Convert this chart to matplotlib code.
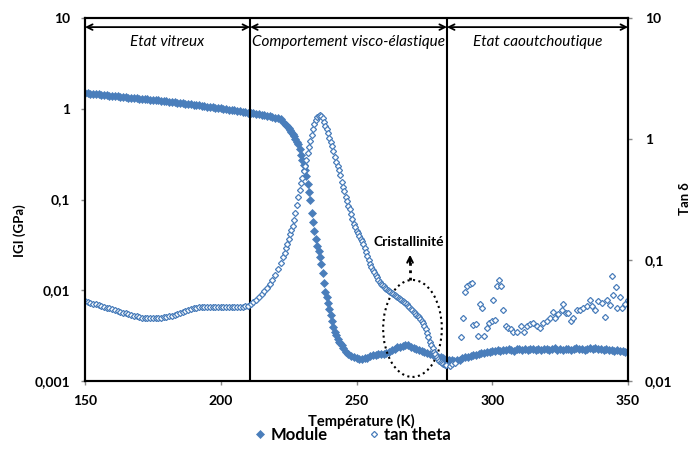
import matplotlib
matplotlib.use("Agg")
import matplotlib.pyplot as plt
from matplotlib.patches import Ellipse

plt.rcParams['font.family'] = ['Lato', 'DejaVu Sans']

# Module |G| (GPa)
module_T = [150, 151, 152, 153, 154, 155, 156, 157, 158, 159,
            160, 161, 162, 163, 164, 165, 166, 167, 168, 169,
            170, 171, 172, 173, 174, 175, 176, 177, 178, 179,
            180, 181, 182, 183, 184, 185, 186, 187, 188, 189,
            190, 191, 192, 193, 194, 195, 196, 197, 198, 199,
            200, 201, 202, 203, 204, 205, 206, 207, 208, 209,
            210, 211, 212, 213, 214, 215, 216, 217, 218, 219,
            220, 221, 222, 223, 224,
            224.5, 225, 225.5, 226, 226.5, 227, 227.5, 228, 228.5, 229,
            229.5, 230, 230.5, 231, 231.5, 232, 232.5, 233, 233.5, 234,
            234.5, 235, 235.5, 236, 236.5, 237, 237.5, 238, 238.5, 239,
            239.5, 240, 240.5, 241, 241.5, 242, 242.5, 243, 243.5, 244,
            244.5, 245,
            246, 247, 248, 249, 250, 251, 252, 253, 254, 255,
            256, 257, 258, 259, 260, 261, 262, 263, 264, 265,
            266, 267, 268, 269, 270, 271, 272, 273, 274, 275,
            276, 277, 278, 279, 280, 281, 282, 283, 284, 285,
            286, 287, 288, 289, 290, 291, 292, 293, 294, 295,
            296, 297, 298, 299, 300, 301, 302, 303, 304, 305,
            306, 307, 308, 309, 310, 311, 312, 313, 314, 315,
            316, 317, 318, 319, 320, 321, 322, 323, 324, 325,
            326, 327, 328, 329, 330, 331, 332, 333, 334, 335,
            336, 337, 338, 339, 340, 341, 342, 343, 344, 345,
            346, 347, 348, 349, 350]
module_G = [1.50, 1.49, 1.47, 1.46, 1.45, 1.44, 1.43, 1.42, 1.41, 1.40,
            1.39, 1.38, 1.37, 1.36, 1.35, 1.34, 1.33, 1.32, 1.31, 1.30,
            1.29, 1.28, 1.28, 1.27, 1.26, 1.25, 1.25, 1.24, 1.23, 1.22,
            1.21, 1.20, 1.19, 1.18, 1.17, 1.16, 1.15, 1.14, 1.13, 1.12,
            1.11, 1.10, 1.09, 1.08, 1.07, 1.06, 1.05, 1.04, 1.03, 1.02,
            1.01, 1.00, 0.99, 0.98, 0.97, 0.96, 0.95, 0.94, 0.93, 0.92,
            0.91, 0.90, 0.89, 0.88, 0.87, 0.86, 0.85, 0.84, 0.83, 0.815,
            0.80, 0.785, 0.765, 0.72, 0.67,
            0.65, 0.62, 0.59, 0.56, 0.53, 0.50, 0.465, 0.435, 0.41, 0.36,
            0.31, 0.27, 0.24, 0.21, 0.18, 0.15, 0.12, 0.100, 0.072, 0.056,
            0.045, 0.037, 0.031, 0.027, 0.023, 0.0195, 0.0155, 0.0120, 0.0096, 0.0084,
            0.0073, 0.0063, 0.0054, 0.0046, 0.0039, 0.0035, 0.0032, 0.0029, 0.0027, 0.0026,
            0.0025, 0.0023,
            0.0021, 0.00198, 0.0019, 0.00183, 0.00178, 0.00176, 0.00176, 0.00178, 0.0018, 0.0019,
            0.00192, 0.00195, 0.00198, 0.0020, 0.0020, 0.00205, 0.0021, 0.0022, 0.00228, 0.00235,
            0.0024, 0.00245, 0.0025, 0.00248, 0.0024, 0.00232, 0.00228, 0.00222, 0.00216, 0.0021,
            0.00205, 0.0020, 0.00195, 0.00192, 0.00186, 0.00182, 0.00178, 0.00176, 0.00172, 0.0017,
            0.00168, 0.0017, 0.00172, 0.00178, 0.00182, 0.00186, 0.0019, 0.00193, 0.00196, 0.0020,
            0.00203, 0.00205, 0.00208, 0.0021, 0.00212, 0.00214, 0.0022, 0.00216, 0.00221, 0.00218,
            0.00224, 0.0022, 0.00217, 0.00223, 0.00226, 0.0022, 0.00224, 0.00219, 0.00223, 0.00228,
            0.00221, 0.00225, 0.0022, 0.00226, 0.00223, 0.00219, 0.00225, 0.00229, 0.00222, 0.00226,
            0.0022, 0.00224, 0.00228, 0.00221, 0.00225, 0.0023, 0.00224, 0.00227, 0.00222, 0.00228,
            0.00231, 0.00225, 0.00229, 0.00223, 0.00227, 0.0022, 0.00224, 0.00219, 0.00222, 0.00217,
            0.0022, 0.00214, 0.00217, 0.00211, 0.00214]

# tan delta, glassy + transition part
tan_T = [150, 151, 152, 153, 154, 155, 156, 157, 158, 159,
         160, 161, 162, 163, 164, 165, 166, 167, 168, 169,
         170, 171, 172, 173, 174, 175, 176, 177, 178, 179,
         180, 181, 182, 183, 184, 185, 186, 187, 188, 189,
         190, 191, 192, 193, 194, 195, 196, 197, 198, 199,
         200, 201, 202, 203, 204, 205, 206, 207, 208, 209,
         210, 211, 212, 213, 214, 215, 216, 217, 218, 219,
         220, 221, 222, 223,
         223.5, 224, 224.5, 225, 225.5, 226, 226.5, 227, 227.5, 228,
         228.5, 229, 229.5, 230, 230.5, 231, 231.5, 232, 232.5, 233,
         233.5, 234, 234.5, 235, 235.5, 236, 236.5, 237, 237.5, 238,
         238.5, 239, 239.5, 240, 240.5, 241, 241.5, 242, 242.5, 243,
         243.5, 244, 244.5, 245, 245.5, 246, 246.5, 247, 247.5, 248,
         248.5, 249, 249.5, 250, 250.5, 251, 251.5, 252, 252.5, 253,
         253.5, 254, 254.5, 255, 255.5, 256, 256.5, 257, 257.5, 258,
         258.5, 259, 259.5, 260, 260.5, 261, 261.5, 262, 262.5, 263,
         263.5, 264, 264.5, 265, 265.5, 266, 266.5, 267, 267.5, 268,
         268.5, 269, 269.5, 270, 270.5, 271, 271.5, 272, 272.5, 273,
         273.5, 274, 274.5, 275, 275.5, 276, 276.5, 277, 277.5, 278,
         278.5, 279, 279.5, 280, 280.5, 281, 281.5, 282, 282.5, 283]
tan_d = [0.046, 0.0452, 0.0445, 0.0437, 0.043, 0.0423, 0.0416, 0.041, 0.0404, 0.0398,
         0.0392, 0.0386, 0.038, 0.0374, 0.0368, 0.0362, 0.0356, 0.0351, 0.0346, 0.0342,
         0.0338, 0.0335, 0.0333, 0.0331, 0.033, 0.033, 0.0331, 0.0332, 0.0334, 0.0336,
         0.0339, 0.0343, 0.0347, 0.0352, 0.0358, 0.0365, 0.0372, 0.0379, 0.0386, 0.0392,
         0.0398, 0.0403, 0.0407, 0.041, 0.0411, 0.0412, 0.0412, 0.0411, 0.041, 0.0409,
         0.0408, 0.0408, 0.0407, 0.0407, 0.0407, 0.0408, 0.0409, 0.041, 0.0412, 0.0415,
         0.042, 0.0432, 0.0448, 0.0468, 0.0492, 0.052, 0.0552, 0.059, 0.0635, 0.069,
         0.0755, 0.084, 0.094, 0.106,
         0.115, 0.125, 0.137, 0.150, 0.163, 0.176, 0.192, 0.215, 0.245, 0.285,
         0.335, 0.38, 0.43, 0.48, 0.54, 0.60, 0.67, 0.76, 0.86, 0.96,
         1.08, 1.22, 1.34, 1.44, 1.51, 1.56, 1.58, 1.56, 1.50, 1.38,
         1.28, 1.20, 1.12, 1.02, 0.94, 0.87, 0.80, 0.71, 0.65, 0.60,
         0.55, 0.50, 0.44, 0.40, 0.37, 0.33, 0.305, 0.28, 0.265, 0.24,
         0.22, 0.20, 0.188, 0.175, 0.166, 0.158, 0.150, 0.143, 0.136, 0.126,
         0.117, 0.108, 0.100, 0.093, 0.088, 0.083, 0.079, 0.076, 0.073, 0.069,
         0.066, 0.064, 0.062, 0.0605, 0.059, 0.0577, 0.0565, 0.0555, 0.0545, 0.0533,
         0.0522, 0.0512, 0.0502, 0.0493, 0.0485, 0.0475, 0.0466, 0.0457, 0.0448, 0.044,
         0.043, 0.0418, 0.0406, 0.0395, 0.0385, 0.0375, 0.0365, 0.0355, 0.0345, 0.0336,
         0.0327, 0.0316, 0.0302, 0.0288, 0.0272, 0.0252, 0.0232, 0.0212, 0.0198, 0.0186,
         0.0175, 0.0166, 0.0159, 0.0152, 0.0147, 0.0143, 0.0140, 0.0138, 0.0136, 0.0135]

# tan delta in the rubbery zone (scattered)
tan_rub_T = [284.5, 285.2, 286.3, 288.4, 289.3, 290.0, 290.8, 291.8, 292.7, 293.0,
             293.9, 294.9, 295.5, 296.1, 297.1, 298.0, 298.9, 299.8, 300.2, 301.0,
             301.6, 302.6, 303.2, 304.1, 305.1, 305.9, 306.8, 307.8, 309.0, 310.5,
             311.5, 312.7, 313.9, 315.1, 316.4, 317.6, 318.8, 320.0, 321.3, 322.3,
             323.1, 324.3, 325.6, 326.2, 327.2, 328.0, 328.9, 329.9, 331.1, 332.3,
             333.5, 334.8, 336.0, 336.6, 337.8, 339.1, 340.3, 341.5, 342.4, 343.4,
             344.0, 344.6, 345.6, 346.1, 347.0, 347.7, 348.9, 349.9]
tan_rub = [0.0133, 0.0138, 0.0142, 0.0232, 0.0334, 0.054, 0.061, 0.0638, 0.065, 0.0289,
           0.0295, 0.0236, 0.043, 0.0405, 0.0236, 0.0277, 0.030, 0.0314, 0.0467, 0.0318,
           0.061, 0.068, 0.061, 0.039, 0.0286, 0.0277, 0.027, 0.0256, 0.0256, 0.0286,
           0.0256, 0.0285, 0.0295, 0.0304, 0.0285, 0.0277, 0.030, 0.0314, 0.0331, 0.0375,
           0.0334, 0.0357, 0.0385, 0.0432, 0.0368, 0.0368, 0.0314, 0.0334, 0.0385, 0.039,
           0.040, 0.042, 0.0467, 0.042, 0.039, 0.046, 0.044, 0.0339, 0.0467, 0.0425,
           0.074, 0.0516, 0.060, 0.0405, 0.0497, 0.0405, 0.0432, 0.0467]

zone_bounds = [150, 210.8, 283.3, 350]
zone_names = ['Etat vitreux', 'Comportement visco-élastique', 'Etat caoutchoutique']
x_ticks = [150, 200, 250, 300, 350]
left_ticks = [0.001, 0.01, 0.1, 1, 10]
left_labels = ['0,001', '0,01', '0,1', '1', '10']
right_ticks = [0.01, 0.1, 1, 10]
right_labels = ['0,01', '0,1', '1', '10']

blue = '#4a7ebb'

fig = plt.figure(figsize=(6.94, 4.51), dpi=100)
ax = fig.add_axes([0.1225, 0.155, 0.7825, 0.805])
ax2 = ax.twinx()

l1, = ax.plot(module_T, module_G, ls='none', marker='D', ms=4,
              mfc=blue, mec=blue, mew=0.5, label='Module')
l2, = ax2.plot(tan_T + tan_rub_T, tan_d + tan_rub, ls='none', marker='D', ms=3.1,
               mfc='white', mec=blue, mew=0.9, label='tan theta')

ax.set_xlim(150, 350)
ax.set_yscale('log')
ax.set_ylim(0.001, 10)
ax2.set_yscale('log')
ax2.set_ylim(0.01, 10)

ax.set_xticks(x_ticks, [str(t) for t in x_ticks], fontweight='bold')
ax.set_yticks(left_ticks, left_labels, fontweight='bold')
ax2.set_yticks(right_ticks, right_labels, fontweight='bold')
for a in (ax, ax2):
    a.tick_params(which='minor', length=0)
    a.tick_params(which='major', direction='out', length=3, width=1,
                  color='#888888', labelsize=10)
    for sp in a.spines.values():
        sp.set_color('black')
        sp.set_linewidth(1.5)
ax.tick_params(axis='x', pad=7)
ax.tick_params(axis='y', pad=7.5)
ax2.tick_params(axis='y', pad=9)

# zones
for b in zone_bounds[1:3]:
    ax.axvline(b, color='black', lw=1.5)
for i in range(3):
    ax.annotate('', xy=(zone_bounds[i], 0.975), xytext=(zone_bounds[i + 1], 0.975),
                xycoords=('data', 'axes fraction'),
                arrowprops=dict(arrowstyle='<->', color='black', lw=1.3,
                                shrinkA=0, shrinkB=0, mutation_scale=10))
    ax.text((zone_bounds[i] + zone_bounds[i + 1]) / 2, 0.934, zone_names[i],
            transform=ax.get_xaxis_transform(), ha='center', va='center',
            style='italic', fontsize=11)

# cristallinity annotation
ax2.add_patch(Ellipse((0.603, 0.145), 0.108, 0.267, transform=ax2.transAxes,
                      fill=False, ls=':', lw=1.5, ec='black'))
ax2.plot([0.5985, 0.5985], [0.278, 0.335], transform=ax2.transAxes,
         color='black', ls=':', lw=2)
ax2.annotate('', xy=(0.5985, 0.348), xytext=(0.5985, 0.325),
             xycoords='axes fraction',
             arrowprops=dict(arrowstyle='->', color='black', lw=1.5,
                             shrinkA=0, shrinkB=0, mutation_scale=10))
ax2.text(0.596, 0.383, 'Cristallinité', transform=ax2.transAxes,
         ha='center', va='center', fontsize=10, fontweight='bold',
         bbox=dict(fc='white', ec='none', pad=0.5))

fig.text(0.0288, 0.488, 'IGI (GPa)', rotation=90, ha='center', va='center',
         fontsize=9.5, fontweight='bold')
fig.text(0.987, 0.559, 'Tan δ', rotation=90, ha='center', va='center',
         fontsize=9.5, fontweight='bold')
fig.text(0.52, 0.065, 'Température (K)', ha='center', va='center',
         fontsize=10.5, fontweight='bold')

fig.legend([l1, l2], ['Module', 'tan theta'], loc='center',
           bbox_to_anchor=(0.509, 0.036), ncol=2, frameon=False,
           prop=dict(weight='bold', size=12), handlelength=0.6,
           handletextpad=0.3, columnspacing=2.5)

fig.savefig('out.png', dpi=100)
